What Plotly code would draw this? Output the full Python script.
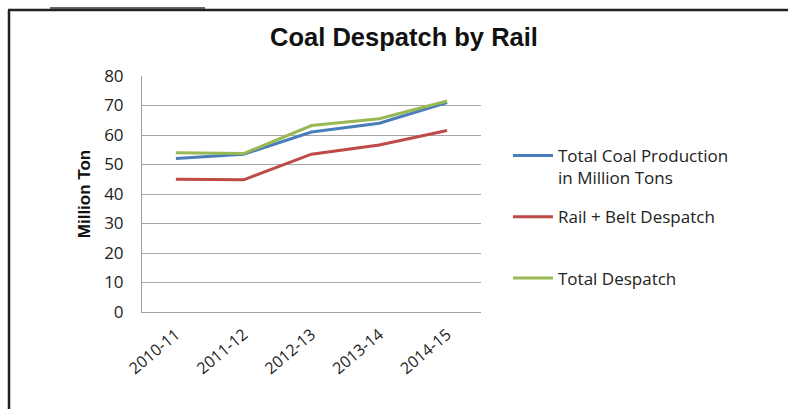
import plotly.graph_objects as go

years = ["2010-11", "2011-12", "2012-13", "2013-14", "2014-15"]
total_production = [52, 53.5, 61, 64, 71]
rail_belt = [45, 44.8, 53.5, 56.6, 61.5]
total_despatch = [54, 53.7, 63.2, 65.5, 71.5]

series_names = ["Total Coal Production<br>in Million Tons", "Rail + Belt Despatch<br> ", "Total Despatch"]
colors = ["#4A7EBB", "#BE4B48", "#98B954"]

W, H = 788, 409
ML, MR, MT, MB = 142, 307, 76, 97

fig = go.Figure()
for name, vals, col in zip(series_names, [total_production, rail_belt, total_despatch], colors):
    fig.add_trace(go.Scatter(x=years, y=vals, name=name, mode="lines",
                             line=dict(color=col, width=3), legendgroup=name))

def px(x):
    return (x - ML) / (W - ML - MR)

def py(y):
    return (H - MB - y) / (H - MT - MB)

shapes = [
    dict(type="line", xref="paper", yref="paper", x0=px(8), x1=px(790), y0=py(10), y1=py(10),
         line=dict(color="#222", width=2.5)),
    dict(type="line", xref="paper", yref="paper", x0=px(9), x1=px(9), y0=py(10), y1=py(412),
         line=dict(color="#222", width=2.5)),
    dict(type="line", xref="paper", yref="paper", x0=px(50), x1=px(205), y0=py(8), y1=py(8),
         line=dict(color="#333", width=1.5)),
]

fig.update_layout(
    width=W, height=H,
    margin=dict(l=ML, r=MR, t=MT, b=MB),
    paper_bgcolor="white", plot_bgcolor="white",
    font=dict(family="Liberation Sans, Arial, sans-serif", color="#222"),
    title=dict(text="<b>Coal Despatch by Rail</b>", x=404 / W, xanchor="center",
               y=1 - 37 / H, yanchor="middle", font=dict(size=25.5, color="#111")),
    xaxis=dict(type="category", range=[-0.5, 4.5], showgrid=False, showline=True,
               linecolor="#a0a0a0", linewidth=1, tickangle=-40, ticklabelstandoff=6,
               tickfont=dict(size=16, family="Open Sans, sans-serif", color="#222")),
    yaxis=dict(range=[0, 80], dtick=10, showgrid=True, gridcolor="#a6a6a6", gridwidth=1,
               showline=True, linecolor="#a0a0a0", linewidth=1, zeroline=False,
               ticklabelstandoff=14,
               tickfont=dict(size=17, family="Open Sans, sans-serif", color="#222"),
               title=dict(text="<b>Million Ton</b>", standoff=9,
                          font=dict(size=17, family="Liberation Sans, Arial, sans-serif", color="#111"))),
    legend=dict(x=px(508), y=py(138), xanchor="left", yanchor="top", valign="top",
                font=dict(size=17, family="Open Sans, sans-serif", color="#222"),
                itemwidth=40, tracegroupgap=14, bgcolor="rgba(0,0,0,0)"),
    shapes=shapes,
    showlegend=True,
)

fig.write_html("out.html", config={"displayModeBar": False},
               post_script="document.body.style.margin='0';")
